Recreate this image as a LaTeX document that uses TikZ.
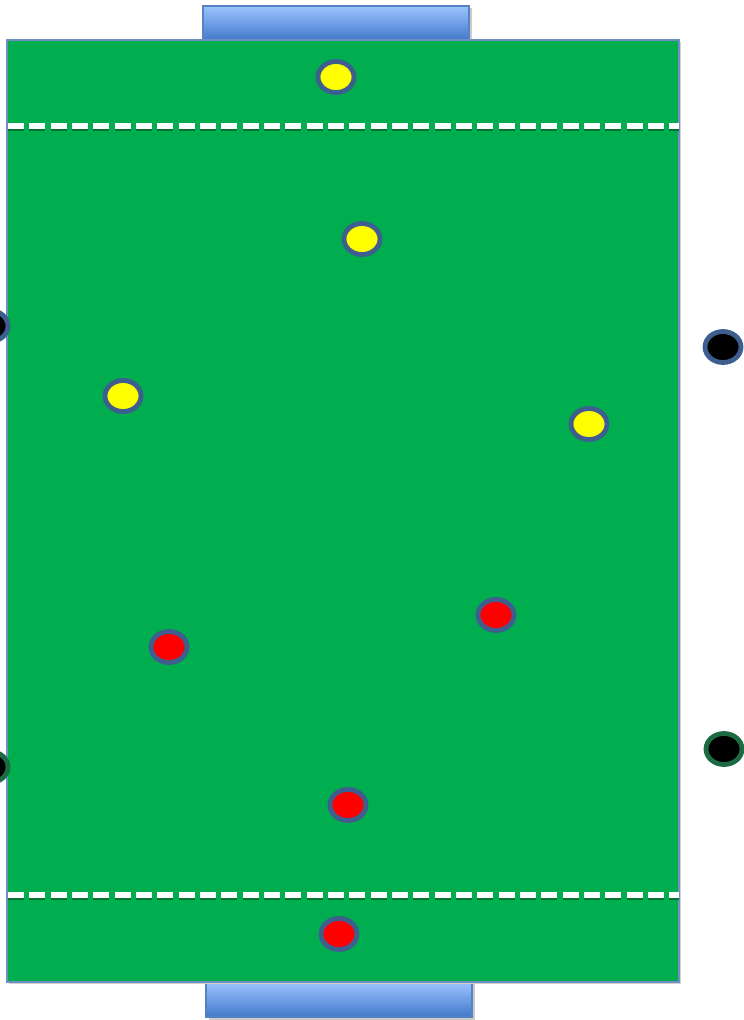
\documentclass[tikz,border=0pt]{standalone}
\usetikzlibrary{shapes.geometric,shadows}
\definecolor{pitch}{HTML}{00AD4F}
\definecolor{pitchedge}{HTML}{6F8FC4}
\definecolor{goaltop}{HTML}{9CC3FF}
\definecolor{goalbot}{HTML}{4279CA}
\definecolor{goaledge}{HTML}{5482C2}
\definecolor{ring}{HTML}{3D5E8E}
\definecolor{greenring}{HTML}{1D6B42}
\definecolor{dotyellow}{HTML}{FFFF00}
\definecolor{dotred}{HTML}{FF0000}
\tikzset{
  player/.style={ellipse, minimum width=36*0.75pt, minimum height=31*0.75pt, inner sep=0pt, line width=3.6pt, draw=ring},
  yellowp/.style={player, fill=dotyellow},
  redp/.style={player, fill=dotred},
  blackp/.style={player, fill=black},
  blackg/.style={player, fill=black, draw=greenring},
  goalbox/.style={draw=goaledge, line width=1pt, top color=goaltop, bottom color=goalbot},
  halfline/.style={draw=white, line width=4pt, dash pattern=on 12pt off 4pt},
}
\begin{document}
\begin{tikzpicture}[x=0.75pt,y=-0.75pt]
\useasboundingbox (0,0) rectangle (743,1020);
% goals
\fill[black!20] (206,8) rectangle (472,42);
\path[goalbox] (203,6) rectangle (469,40);
\fill[black!20] (209,984) rectangle (475,1020);
\path[goalbox] (206,982) rectangle (472,1017);
% pitch shadow and pitch
\fill[black!18] (9,42) rectangle (681,984);
\path[fill=pitch, draw=pitchedge, line width=1.1pt] (7,40) rectangle (679,982);
% dashed half lines
\draw[draw=black!35!pitch, line width=4pt, dash pattern=on 12pt off 4pt] (8,128) -- (679,128);
\draw[halfline] (8,126) -- (679,126);
\draw[draw=black!35!pitch, line width=4pt, dash pattern=on 12pt off 4pt] (8,897) -- (679,897);
\draw[halfline] (8,895) -- (679,895);
% players
\node[yellowp] (y1) at (336,77) {};
\node[yellowp] (y2) at (362,239) {};
\node[yellowp] (y3) at (123,396) {};
\node[yellowp] (y4) at (589,424) {};
\node[redp] (r1) at (496,615) {};
\node[redp] (r2) at (169,647) {};
\node[redp] (r3) at (348,805) {};
\node[redp] (r4) at (339,934) {};
\node[blackp] (b1) at (-10,326) {};
\node[blackp] (b2) at (723,347) {};
\node[blackg] (b3) at (-10,767) {};
\node[blackg] (b4) at (724,749) {};
\end{tikzpicture}
\end{document}
